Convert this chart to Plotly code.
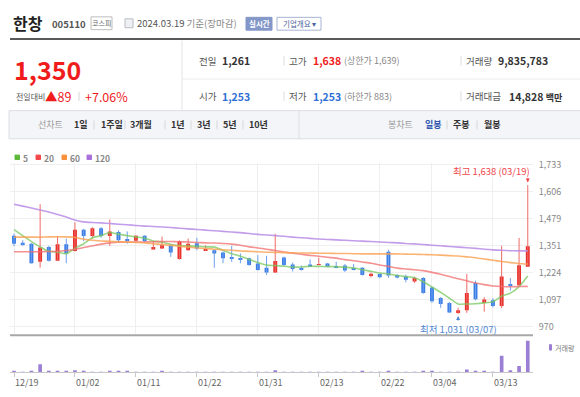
import plotly.graph_objects as go

W, H = 580, 397
FONT = "Noto Sans CJK KR, Noto Sans, sans-serif"

def px(x):
    return x / W

def py(y):
    return 1 - y / H

# ---------------- data ----------------
dates = ["12/19", "12/20", "12/21", "12/22", "12/26", "12/27", "12/28",
         "01/02", "01/03", "01/04", "01/05", "01/08", "01/09", "01/10", "01/11", "01/12",
         "01/15", "01/16", "01/17", "01/18", "01/19", "01/22", "01/23", "01/24", "01/25", "01/26",
         "01/29", "01/30", "01/31", "02/01", "02/02", "02/05", "02/06", "02/07", "02/08",
         "02/13", "02/14", "02/15", "02/16", "02/19", "02/20", "02/21", "02/22", "02/23",
         "02/26", "02/27", "02/28", "02/29", "03/04", "03/05", "03/06", "03/07", "03/08",
         "03/11", "03/12", "03/13", "03/14", "03/15", "03/18", "03/19"]

open_ = [1400, 1367, 1362, 1277, 1347, 1282, 1359, 1327, 1428, 1398,
         1435, 1398, 1417, 1382, 1376, 1400, 1335, 1339, 1352, 1290,
         1331, 1364, 1330, 1331, 1320, 1296, 1293, 1293, 1269, 1249,
         1226, 1297, 1264, 1246, 1264, 1262, 1269, 1257, 1259, 1247,
         1249, 1214, 1219, 1324, 1214, 1207, 1184, 1200, 1156, 1106,
         1083, 1040, 1048, 1177, 1083, 1095, 1068, 1172, 1166, 1253]
high = [1409, 1378, 1365, 1548, 1352, 1398, 1386, 1463, 1432, 1440,
        1440, 1476, 1425, 1420, 1402, 1402, 1373, 1396, 1362, 1378,
        1386, 1390, 1355, 1335, 1325, 1352, 1316, 1296, 1308, 1305,
        1409, 1301, 1273, 1259, 1288, 1296, 1271, 1277, 1266, 1266,
        1252, 1226, 1222, 1334, 1218, 1217, 1207, 1205, 1160, 1111,
        1088, 1060, 1220, 1188, 1110, 1105, 1352, 1200, 1389, 1638]
low = [1350, 1352, 1268, 1249, 1278, 1280, 1270, 1325, 1374, 1386,
       1390, 1352, 1370, 1362, 1372, 1368, 1333, 1337, 1300, 1287,
       1329, 1331, 1328, 1249, 1270, 1277, 1270, 1258, 1235, 1215,
       1224, 1257, 1231, 1235, 1252, 1260, 1252, 1246, 1229, 1236,
       1212, 1203, 1201, 1201, 1198, 1180, 1177, 1126, 1084, 1060,
       1035, 1031, 1036, 1095, 1042, 1062, 1058, 1141, 1163, 1253]
close = [1362, 1358, 1270, 1344, 1282, 1359, 1316, 1428, 1398, 1435,
         1398, 1420, 1378, 1376, 1400, 1373, 1347, 1355, 1321, 1373,
         1362, 1339, 1333, 1316, 1293, 1290, 1287, 1262, 1238, 1226,
         1280, 1262, 1243, 1240, 1255, 1266, 1255, 1251, 1236, 1240,
         1215, 1220, 1204, 1212, 1203, 1192, 1200, 1130, 1091, 1078,
         1038, 1048, 1130, 1100, 1099, 1068, 1207, 1166, 1261, 1350]
volume = [400000, 50000, 400000, 2500000, 400000, 400000, 400000, 650000, 400000, 50000,
          50000, 400000, 400000, 400000, 50000, 50000, 50000, 400000, 50000, 50000,
          50000, 50000, 50000, 50000, 50000, 50000, 50000, 50000, 50000, 50000,
          650000, 50000, 50000, 50000, 50000, 50000, 50000, 50000, 50000, 50000,
          400000, 50000, 50000, 400000, 50000, 50000, 50000, 400000, 400000, 50000,
          50000, 50000, 870000, 400000, 400000, 50000, 5150000, 650000, 1940000, 9835783]

ma5 = [1428, 1400, 1372, 1347, 1326, 1322, 1315, 1340, 1362, 1390,
       1400, 1415, 1407, 1400, 1394, 1388, 1375, 1369, 1358, 1353,
       1351, 1350, 1347, 1346, 1331, 1315, 1303, 1288, 1273, 1261,
       1259, 1256, 1252, 1252, 1256, 1255, 1254, 1254, 1251, 1248,
       1239, 1232, 1224, 1219, 1212, 1207, 1202, 1183, 1158, 1133,
       1105, 1078, 1078, 1079, 1083, 1089, 1115, 1129, 1160, 1210]
ma20 = [1324, 1324, 1324, 1324, 1325, 1326, 1330, 1336, 1344, 1352,
        1360, 1366, 1369, 1370, 1370, 1370, 1371, 1372, 1372, 1371,
        1370, 1368, 1366, 1365, 1363, 1360, 1355, 1347, 1342, 1336,
        1330, 1323, 1317, 1312, 1307, 1303, 1298, 1294, 1287, 1282,
        1276, 1270, 1262, 1255, 1247, 1243, 1239, 1235, 1227, 1218,
        1207, 1197, 1187, 1177, 1169, 1163, 1160, 1159, 1160, 1161]
ma60 = [1393, 1393, 1393, 1393, 1394, 1395, 1394, 1391, 1383, 1378,
        1375, 1373, 1371, 1370, 1368, 1366, 1362, 1358, 1354, 1350,
        1346, 1342, 1339, 1336, 1333, 1331, 1328, 1326, 1324, 1322,
        1321, 1320, 1319, 1318, 1318, 1317, 1317, 1316, 1316, 1315,
        1314, 1314, 1314, 1314, 1314, 1313, 1312, 1311, 1310, 1308,
        1306, 1304, 1300, 1296, 1290, 1284, 1278, 1273, 1269, 1266]
ma120 = [1548, 1539, 1530, 1521, 1511, 1500, 1488, 1474, 1465, 1462,
         1460, 1457, 1454, 1451, 1448, 1445, 1443, 1441, 1438, 1435,
         1432, 1429, 1426, 1423, 1420, 1417, 1414, 1410, 1406, 1403,
         1400, 1397, 1393, 1390, 1387, 1384, 1382, 1380, 1378, 1376,
         1374, 1372, 1370, 1368, 1366, 1363, 1361, 1358, 1355, 1352,
         1349, 1346, 1343, 1340, 1336, 1333, 1331, 1329, 1328, 1328]

price_ticks = [970, 1097.17, 1224.33, 1351.5, 1478.67, 1605.83, 1733]
price_tick_text = ["970", "1,097", "1,224", "1,351", "1,479", "1,606", "1,733"]
date_ticks = ["12/19", "01/02", "01/11", "01/22", "01/31", "02/13", "02/22", "03/04", "03/13"]

ma_names = ["5", "20", "60", "120"]
ma_line_colors = ["rgba(120,200,95,0.75)", "rgba(240,110,110,0.75)",
                  "rgba(250,160,80,0.8)", "rgba(185,140,230,0.85)"]
ma_key_colors = ["#5db83a", "#f2474a", "#f9913b", "#a970db"]

RED = "#e8312b"
BLUE = "#3a7ee4"

# ---------------- traces ----------------
fig = go.Figure()

fig.add_trace(go.Bar(x=dates, y=volume, width=0.42, marker=dict(color="#9b7fd4", line=dict(width=0)),
                     xaxis="x2", yaxis="y2", showlegend=False))

rx, ry, bx, by = [], [], [], []
for d, o, h, l, c in zip(dates, open_, high, low, close):
    if c >= o:
        rx += [d, d, None]
        ry += [l, h, None]
    else:
        bx += [d, d, None]
        by += [l, h, None]
fig.add_trace(go.Scatter(x=rx, y=ry, mode="lines", line=dict(color="#ee6a66", width=1),
                         xaxis="x", yaxis="y", showlegend=False))
fig.add_trace(go.Scatter(x=bx, y=by, mode="lines", line=dict(color="#6c9ff0", width=1),
                         xaxis="x", yaxis="y", showlegend=False))

body_base = [min(o, c) for o, c in zip(open_, close)]
body_h = [max(abs(c - o), 4) for o, c in zip(open_, close)]
body_col = [RED if c >= o else BLUE for o, c in zip(open_, close)]
fig.add_trace(go.Bar(x=dates, y=body_h, base=body_base, width=0.45,
                     marker=dict(color=body_col, line=dict(width=0)),
                     xaxis="x", yaxis="y", showlegend=False))

for name, vals, col in zip(ma_names, [ma5, ma20, ma60, ma120], ma_line_colors):
    fig.add_trace(go.Scatter(x=dates, y=vals, mode="lines", name=name,
                             line=dict(color=col, width=1.6, shape="spline", smoothing=0.6),
                             xaxis="x", yaxis="y", showlegend=False))

# ---------------- layout ----------------
main_top, main_bot = 160, 334
vol_top, vol_bot = 336, 372
k = 763 / 164.0  # price per pixel
y_hi = 1733 + (162 - main_top) * k
y_lo = 1733 - (main_bot - 162) * k
vmax = max(volume)
v_hi = vmax * (vol_bot - vol_top) / 32.0

ann = []
shapes = []

def txt(x, y, s, size=10, color="#333", anchor="left", bold=False):
    ann.append(dict(x=px(x), y=py(y), xref="paper", yref="paper",
                    text=("<b>%s</b>" % s if bold else s), showarrow=False,
                    xanchor=anchor, yanchor="middle", borderpad=0,
                    font=dict(size=size, color=color, family=FONT)))

def rect(x0, y0, x1, y1, fill="rgba(0,0,0,0)", line="rgba(0,0,0,0)", lw=1):
    shapes.append(dict(type="rect", xref="paper", yref="paper", x0=px(x0), x1=px(x1),
                       y0=py(y1), y1=py(y0), fillcolor=fill, line=dict(color=line, width=lw),
                       layer="below"))

def hline(x0, x1, y, color, lw=1):
    shapes.append(dict(type="line", xref="paper", yref="paper", x0=px(x0), x1=px(x1),
                       y0=py(y), y1=py(y), line=dict(color=color, width=lw)))

def vline(x, y0, y1, color, lw=1):
    shapes.append(dict(type="line", xref="paper", yref="paper", x0=px(x), x1=px(x),
                       y0=py(y0), y1=py(y1), line=dict(color=color, width=lw)))

# header
txt(12, 18.5, "한창", size=16, color="#222", bold=True)
txt(51, 19, "005110", size=9.5, color="#555", bold=True)
rect(91, 12, 112, 25, fill="#ffffff", line="#bdbdbd")
txt(101.5, 18.5, "코스피", size=7, color="#666", anchor="center")
rect(125, 14, 133, 23, fill="#eef0f3", line="#b8bcc4")
txt(136, 18.5, "2024.03.19 <span style='color:#888'>기준(장마감)</span>", size=9.5, color="#555")
rect(246, 12.5, 272, 25.5, fill="#8397c8", line="#8397c8")
txt(259, 19, "실시간", size=7.5, color="#ffffff", anchor="center", bold=True)
rect(277, 12.5, 321, 25.5, fill="#ffffff", line="#a8b4d4")
txt(299, 19, "기업개요 ▾", size=7.5, color="#4a64a0", anchor="center")
hline(10, 580, 34.5, "#5a5a5a", 2)

# price block
txt(13, 64.5, "1,350", size=25, color="#f01c1c", bold=True)
txt(15, 92.5, "전일대비", size=8, color="#555")
txt(44, 92.5, "▲89", size=12.5, color="#f01c1c")
vline(79, 88, 97, "#d5d5d5")
txt(84, 92.5, "+7.06%", size=12.5, color="#f01c1c")
vline(182, 36, 106, "#e3e3e3")
hline(182, 580, 75, "#ececec")

rows = [(56.5, [("전일", "1,261", "#333", "", 198),
                ("고가", "1,638", "#f01c1c", "(상한가 1,639)", 288),
                ("거래량", "9,835,783", "#333", "", 465)]),
        (92.5, [("시가", "1,253", "#2f6fd6", "", 198),
                ("저가", "1,253", "#2f6fd6", "(하한가 883)", 288),
                ("거래대금", "14,828 <span style='font-size:9px'>백만</span>", "#333", "", 465)])]
val_x = {198: 221, 288: 312}
for yy, items in rows:
    for lab, val, vc, extra, x0 in items:
        txt(x0, yy, lab, size=9.5, color="#555")
        if x0 == 465:
            vx = 497 if lab == "거래량" else 508
        else:
            vx = val_x[x0]
        txt(vx, yy, val, size=10.5, color=vc, bold=True)
        if extra:
            txt(343, yy, extra, size=9, color="#888")
        if x0 != 198:
            vline(x0 - 4, yy - 5, yy + 5, "#dddddd")

# nav bar
rect(9, 107, 581, 135.5, fill="#f4f5f8", line="#dcdee3")
vline(299, 107, 135.5, "#dcdee3")
txt(37, 121.5, "선차트", size=9, color="#999")
nav = [("1일", 73), ("1주일", 100), ("3개월", 129), ("1년", 170), ("3년", 196), ("5년", 222), ("10년", 248)]
for s, x0 in nav:
    txt(x0, 121.5, s, size=9, color="#333", bold=True)
for sx in [94, 125, 165, 191, 217, 243]:
    vline(sx, 117, 126, "#d5d7dc")
txt(387, 121.5, "봉차트", size=9, color="#999")
txt(424, 121.5, "일봉", size=9, color="#3257b0", bold=True)
txt(452, 121.5, "주봉", size=9, color="#333", bold=True)
txt(483, 121.5, "월봉", size=9, color="#333", bold=True)
for sx in [447, 477]:
    vline(sx, 117, 126, "#d5d7dc")

# MA legend
leg_x = [15, 36, 62, 87]
for (name, kc, lx) in zip(ma_names, ma_key_colors, leg_x):
    rect(lx, 152, lx + 4.5, 156.5, fill=kc, line=kc)
    txt(lx + 7, 154.5, name, size=8.5, color="#888", bold=True)

# volume legend
rect(549.5, 344, 551.5, 349.5, fill="#9b7fd4", line="#9b7fd4")
txt(554, 347, "거래량", size=7, color="#777")

# bottom border of price chart
hline(10, 533, 334.5, "#a8a8a8", 2)

# date labels (left-aligned at their ticks)
for d in date_ticks:
    ann.append(dict(x=d, y=py(382), xref="x2", yref="paper", text=d, showarrow=False,
                    xanchor="left", yanchor="middle", xshift=-1,
                    font=dict(size=9, color="#666", family=FONT)))

# high / low markers
ann.append(dict(x=px(532), y=py(168), xref="paper", yref="paper", text="최고 1,638 (03/19)",
                showarrow=False, xanchor="right", yanchor="middle",
                font=dict(size=9.5, color="#f0484d", family=FONT)))
ann.append(dict(x=dates[59], y=1650, xref="x", yref="y", text="", showarrow=True,
                ax=0, ay=-6, arrowhead=2, arrowsize=0.8, arrowwidth=1, arrowcolor="#f0484d"))
ann.append(dict(x=dates[51], y=py(328.5), xref="x", yref="paper", text="최저 1,031 (03/07)",
                showarrow=False, xanchor="center", yanchor="middle",
                font=dict(size=9.5, color="#4f87d3", family=FONT)))
ann.append(dict(x=dates[51], y=1021, xref="x", yref="y", text="", showarrow=True,
                ax=0, ay=6, arrowhead=2, arrowsize=0.8, arrowwidth=1, arrowcolor="#4f87d3"))

xr = [-0.46, 59.6]
fig.update_layout(
    width=W, height=H, margin=dict(l=0, r=0, t=0, b=0),
    paper_bgcolor="white", plot_bgcolor="white",
    font=dict(family=FONT, size=9, color="#666"),
    hovermode=False, showlegend=False, barmode="overlay",
    xaxis=dict(domain=[px(10), px(533)], anchor="y", type="category", range=xr,
               categoryorder="array", categoryarray=dates,
               tickmode="array", tickvals=date_ticks, showticklabels=False,
               showgrid=True, gridcolor="#efefef", gridwidth=1, ticks="",
               showline=False, zeroline=False, fixedrange=True),
    yaxis=dict(domain=[py(main_bot), py(main_top)], anchor="x", side="right",
               range=[y_lo, y_hi], tickmode="array", tickvals=price_ticks,
               ticktext=price_tick_text, showgrid=True, gridcolor="#efefef",
               ticks="outside", ticklen=3, tickcolor="rgba(0,0,0,0)",
               tickfont=dict(size=9, color="#888", family=FONT),
               showline=False, zeroline=False, fixedrange=True),
    xaxis2=dict(domain=[px(10), px(533)], anchor="y2", type="category", range=xr,
                categoryorder="array", categoryarray=dates,
                matches="x", tickmode="array", tickvals=date_ticks,
                showticklabels=False, ticks="outside", ticklen=4, tickcolor="#c8c8c8",
                showgrid=False, showline=True, linecolor="#c8c8c8", linewidth=1,
                zeroline=False, fixedrange=True),
    yaxis2=dict(domain=[py(vol_bot), py(vol_top)], anchor="x2", range=[0, v_hi],
                visible=False, fixedrange=True),
    annotations=ann, shapes=shapes,
)

fig.write_html("out.html", config={"displayModeBar": False},
               post_script="document.body.style.margin='0';document.body.style.overflow='hidden';")
